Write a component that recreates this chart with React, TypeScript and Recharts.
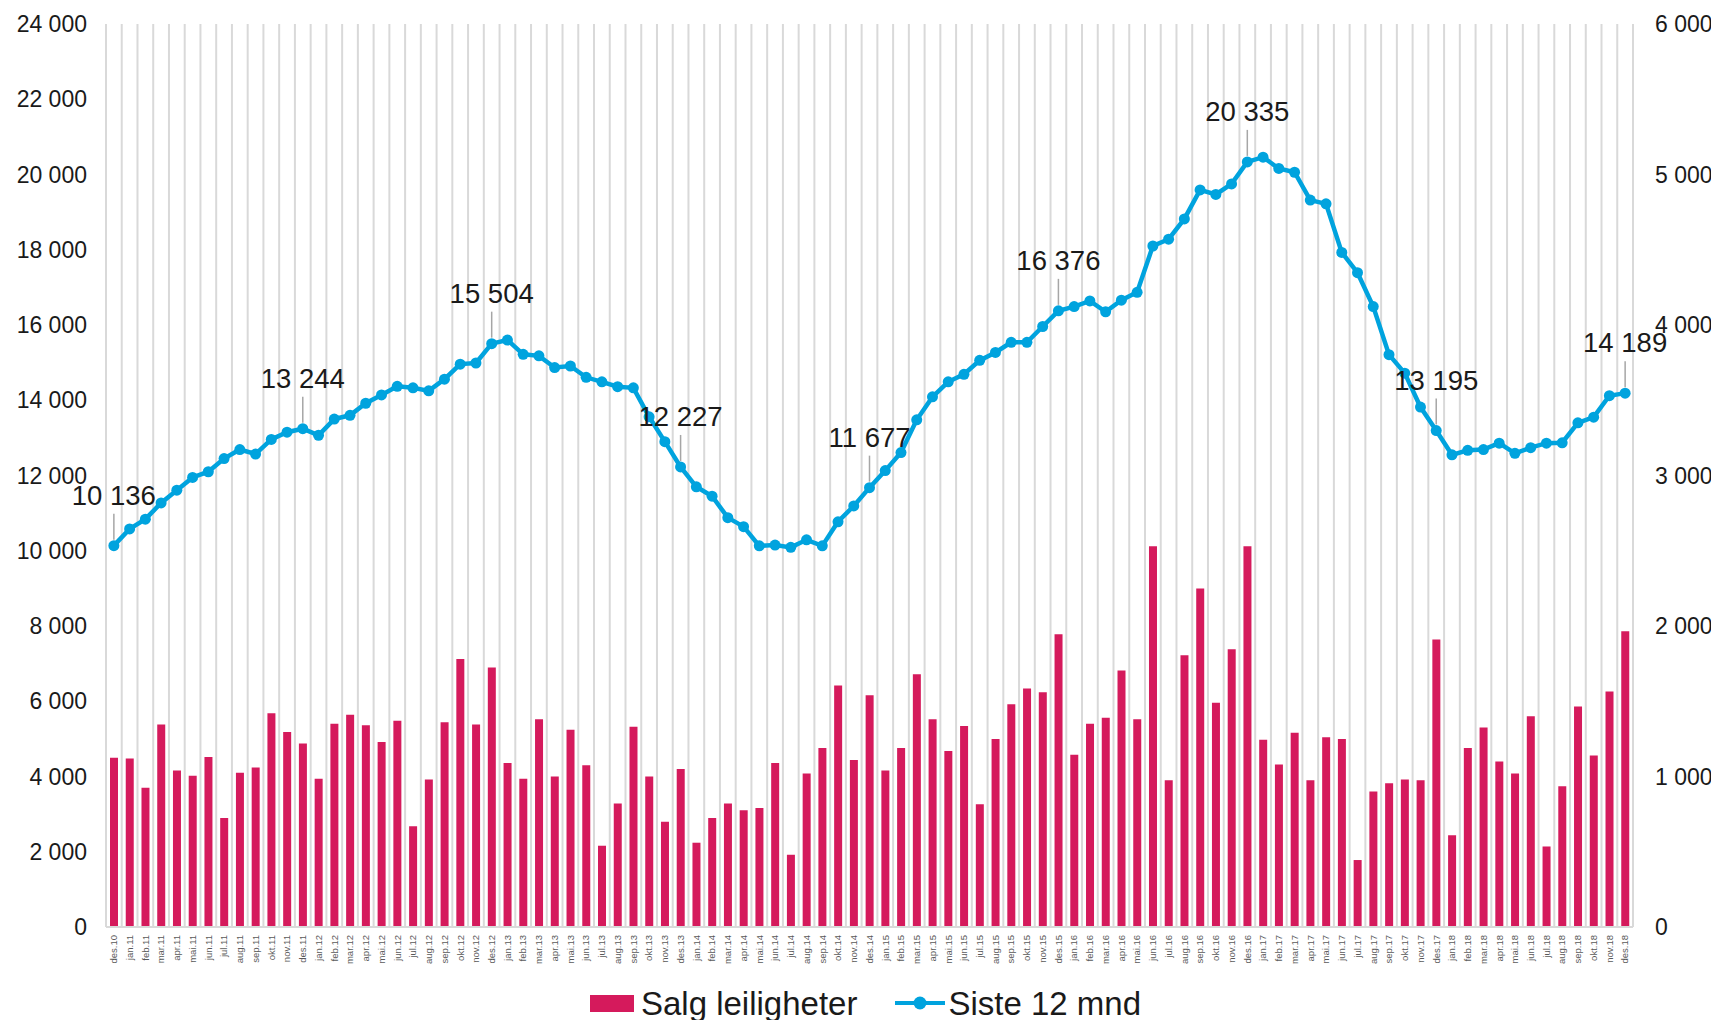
import React from "react";
import {
  ComposedChart,
  Bar,
  Line,
  XAxis,
  YAxis,
  CartesianGrid,
  Legend,
  LabelList,
} from "recharts";

const months = [
  "des.10",
  "jan.11", "feb.11", "mar.11", "apr.11", "mai.11", "jun.11", "jul.11", "aug.11", "sep.11", "okt.11", "nov.11", "des.11",
  "jan.12", "feb.12", "mar.12", "apr.12", "mai.12", "jun.12", "jul.12", "aug.12", "sep.12", "okt.12", "nov.12", "des.12",
  "jan.13", "feb.13", "mar.13", "apr.13", "mai.13", "jun.13", "jul.13", "aug.13", "sep.13", "okt.13", "nov.13", "des.13",
  "jan.14", "feb.14", "mar.14", "apr.14", "mai.14", "jun.14", "jul.14", "aug.14", "sep.14", "okt.14", "nov.14", "des.14",
  "jan.15", "feb.15", "mar.15", "apr.15", "mai.15", "jun.15", "jul.15", "aug.15", "sep.15", "okt.15", "nov.15", "des.15",
  "jan.16", "feb.16", "mar.16", "apr.16", "mai.16", "jun.16", "jul.16", "aug.16", "sep.16", "okt.16", "nov.16", "des.16",
  "jan.17", "feb.17", "mar.17", "apr.17", "mai.17", "jun.17", "jul.17", "aug.17", "sep.17", "okt.17", "nov.17", "des.17",
  "jan.18", "feb.18", "mar.18", "apr.18", "mai.18", "jun.18", "jul.18", "aug.18", "sep.18", "okt.18", "nov.18", "des.18",
];

// monthly sales (right axis)
const salg = [
  1125,
  1120, 925, 1345, 1040, 1005, 1130, 725, 1025, 1060, 1420, 1295, 1220,
  985, 1350, 1410, 1340, 1230, 1370, 670, 980, 1360, 1780, 1345, 1725,
  1090, 985, 1380, 1000, 1310, 1075, 540, 820, 1330, 1000, 700, 1050,
  560, 725, 820, 775, 790, 1090, 480, 1020, 1190, 1605, 1110, 1540,
  1040, 1190, 1680, 1380, 1170, 1335, 815, 1250, 1480, 1585, 1560, 1945,
  1145, 1350, 1390, 1705, 1380, 2530, 975, 1805, 2250, 1490, 1845, 2530,
  1245, 1080, 1290, 975, 1260, 1250, 445, 900, 955, 980, 975, 1910,
  610, 1190, 1325, 1100, 1020, 1400, 535, 935, 1465, 1140, 1565, 1965,
];

// rolling 12 months (left axis)
const siste12 = [
  10136,
  10580, 10840, 11270, 11610, 11950, 12100, 12450, 12690, 12570, 12960, 13150, 13244,
  13070, 13500, 13600, 13920, 14140, 14370, 14330, 14250, 14560, 14960, 14990, 15504,
  15600, 15220, 15180, 14870, 14910, 14610, 14490, 14360, 14330, 13560, 12900, 12227,
  11700, 11450, 10880, 10640, 10130, 10150, 10090, 10290, 10130, 10770, 11190, 11677,
  12130, 12610, 13480, 14090, 14490, 14690, 15060, 15270, 15540, 15540, 15960, 16376,
  16490, 16640, 16350, 16660, 16870, 18100, 18280, 18820, 19590, 19470, 19750, 20335,
  20460, 20160, 20060, 19320, 19220, 17930, 17390, 16490, 15210, 14720, 13820, 13195,
  12550, 12670, 12690, 12860, 12590, 12740, 12860, 12870, 13400, 13550, 14120, 14189,
];

const labelled = ["des.10", "des.11", "des.12", "des.13", "des.14", "des.15", "des.16", "des.17", "des.18"];

const leftTicks = [0, 2000, 4000, 6000, 8000, 10000, 12000, 14000, 16000, 18000, 20000, 22000, 24000];
const rightTicks = [0, 1000, 2000, 3000, 4000, 5000, 6000];

const data = months.map((m, i) => ({ month: m, salg: salg[i], siste12: siste12[i] }));

const FONT = "'Liberation Sans', Arial, sans-serif";
const BAR = "#D51A5C";
const LINE = "#00A3DE";

const fmt = (v: number) => String(v).replace(/\B(?=(\d{3})+(?!\d))/g, " ");

const MonthTick = ({ x, y, payload }: any) => (
  <text
    x={x}
    y={y}
    transform={`rotate(-90, ${x}, ${y})`}
    textAnchor="end"
    dy="0.35em"
    fontSize={9.5}
    fill="#595959"
    fontFamily={FONT}
  >
    {payload.value}
  </text>
);

const Callout = (props: any) => {
  const { x, y, value, index } = props;
  if (!labelled.includes(months[index])) return null;
  return (
    <g>
      <line x1={x} y1={y - 6} x2={x} y2={y - 32} stroke="#a6a6a6" strokeWidth={1.5} />
      <text x={x} y={y - 41} textAnchor="middle" fontSize={27.5} fill="#1a1a1a" fontFamily={FONT}>
        {fmt(value)}
      </text>
    </g>
  );
};

const LegendBox = () => (
  <div
    style={{
      height: 51,
      paddingTop: 17,
      boxSizing: "border-box",
      display: "flex",
      justifyContent: "center",
      alignItems: "center",
      paddingLeft: 4,
      fontFamily: FONT,
      fontSize: 33,
      color: "#1a1a1a",
      lineHeight: "33px",
    }}
  >
    <span style={{ display: "inline-block", width: 44, height: 17, background: BAR, marginRight: 7 }} />
    <span style={{ marginRight: 38 }}>Salg leiligheter</span>
    <svg width={50} height={16} style={{ marginRight: 3 }}>
      <line x1={0} y1={8} x2={50} y2={8} stroke={LINE} strokeWidth={4} />
      <circle cx={25} cy={8} r={6.5} fill={LINE} />
    </svg>
    <span>Siste 12 mnd</span>
  </div>
);

export default function App() {
  return (
    <ComposedChart
      width={1711}
      height={1012}
      data={data}
      margin={{ top: 16, right: 0, bottom: 0, left: 0 }}
    >
      <CartesianGrid
        horizontal={false}
        stroke="#d9d9d9"
        strokeWidth={2}
        verticalCoordinatesGenerator={({ offset }: any) =>
          Array.from({ length: months.length + 1 }, (_, i) => offset.left + (i * offset.width) / months.length)
        }
      />
      <XAxis
        dataKey="month"
        interval={0}
        tick={<MonthTick />}
        tickLine={false}
        tickSize={0}
        tickMargin={8}
        height={42}
        axisLine={{ stroke: "#d9d9d9", strokeWidth: 2 }}
      />
      <YAxis
        yAxisId="left"
        domain={[0, 24000]}
        ticks={leftTicks}
        tickFormatter={fmt}
        width={98}
        axisLine={false}
        tickLine={false}
        tickSize={0}
        tickMargin={19}
        tick={{ fontSize: 23, fill: "#1a1a1a", fontFamily: FONT }}
      />
      <YAxis
        yAxisId="right"
        orientation="right"
        domain={[0, 6000]}
        ticks={rightTicks}
        tickFormatter={fmt}
        width={86}
        axisLine={false}
        tickLine={false}
        tickSize={0}
        tickMargin={22}
        tick={{ fontSize: 23, fill: "#1a1a1a", fontFamily: FONT, textAnchor: "start" }}
      />
      <Legend verticalAlign="bottom" content={<LegendBox />} />
      <Bar
        yAxisId="right"
        dataKey="salg"
        name="Salg leiligheter"
        fill={BAR}
        barSize={8}
        isAnimationActive={false}
      />
      <Line
        yAxisId="left"
        dataKey="siste12"
        name="Siste 12 mnd"
        stroke={LINE}
        strokeWidth={4.5}
        dot={{ r: 5.5, fill: LINE, stroke: LINE, strokeWidth: 0 }}
        activeDot={false}
        isAnimationActive={false}
      >
        <LabelList dataKey="siste12" content={<Callout />} />
      </Line>
    </ComposedChart>
  );
}
